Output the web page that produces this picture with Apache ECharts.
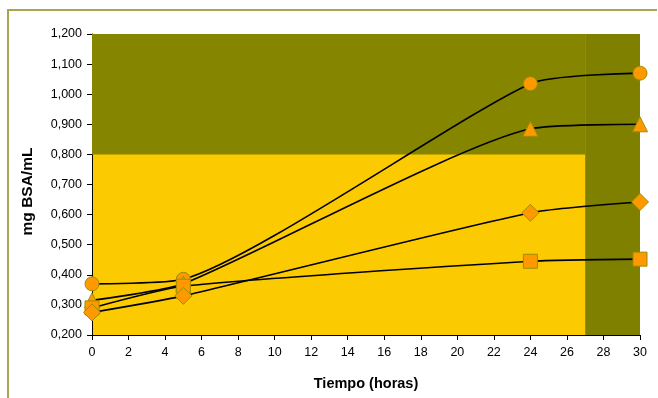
<!DOCTYPE html>
<html>
<head>
<meta charset="utf-8">
<script src="https://cdn.jsdelivr.net/npm/echarts@6/dist/echarts.min.js"></script>
<style>
  html, body { margin: 0; padding: 0; background: #ffffff; }
  #chart { width: 658px; height: 398px; }
</style>
</head>
<body>
<div id="chart"></div>
<script>
// Sampling times (hours)
var horas = [0, 5, 24, 30];

// Protein concentration, mg BSA/mL, one series per condition
var serieCirculo   = [0.370, 0.385, 1.035, 1.070];
var serieTriangulo = [0.315, 0.370, 0.885, 0.900];
var serieCuadrado  = [0.290, 0.362, 0.445, 0.452];
var serieRombo     = [0.275, 0.330, 0.606, 0.642];

// Shaded background zones [x0, y0, x1, y1] in data units
var zonaSuperior = [0, 0.8, 27, 1.2];
var zonaDerecha  = [27, 0.2, 30, 1.2];

var fuente = '"Liberation Sans", Arial, sans-serif';
var naranja = '#ff9900';
var bordeMarca = '#a08c00';

function serie(nombre, datos, simbolo, tam, extra) {
  var s = {
    name: nombre,
    type: 'line',
    data: horas.map(function (h, i) { return [h, datos[i]]; }),
    smooth: 0.2,
    symbol: simbolo,
    symbolSize: tam,
    showAllSymbol: true,
    lineStyle: { color: '#000000', width: 1.6 },
    itemStyle: { color: naranja, borderColor: bordeMarca, borderWidth: 1 },
    emphasis: { disabled: true },
    z: 3
  };
  if (extra) { for (var k in extra) s[k] = extra[k]; }
  return s;
}

var chart = echarts.init(document.getElementById('chart'), null, { renderer: 'canvas' });

chart.setOption({
  animation: false,
  backgroundColor: '#ffffff',
  graphic: [
    { type: 'line', shape: { x1: 8, y1: 10, x2: 8, y2: 398 },
      style: { stroke: '#a8a650', lineWidth: 2 } },
    { type: 'line', shape: { x1: 7, y1: 10, x2: 657, y2: 10 },
      style: { stroke: '#a8a650', lineWidth: 2 } }
  ],
  grid: {
    left: 92, right: 18, top: 34, bottom: 63,
    show: true, backgroundColor: '#fbca00', borderWidth: 0
  },
  xAxis: {
    type: 'value',
    min: 0, max: 30, interval: 2,
    name: 'Tiempo (horas)',
    nameLocation: 'middle',
    nameGap: 41,
    nameTextStyle: { fontFamily: fuente, fontSize: 14.5, fontWeight: 'bold', color: '#000' },
    axisLine: { show: true, lineStyle: { color: '#000', width: 1 } },
    axisTick: { show: true, length: 5, lineStyle: { color: '#000' } },
    axisLabel: { fontFamily: fuente, fontSize: 12.5, color: '#000', margin: 11 },
    splitLine: { show: false }
  },
  yAxis: {
    type: 'value',
    min: 0.2, max: 1.2, interval: 0.1,
    name: 'mg BSA/mL',
    nameLocation: 'middle',
    nameGap: 56,
    nameTextStyle: {
      fontFamily: fuente, fontSize: 15.5, fontWeight: 'bold', color: '#000',
      padding: [0, 14, 0, 0]
    },
    axisLine: { show: true, lineStyle: { color: '#000', width: 1 } },
    axisTick: { show: true, length: 5, lineStyle: { color: '#000' } },
    axisLabel: {
      fontFamily: fuente, fontSize: 12.5, color: '#000', margin: 10,
      formatter: function (v) { return v.toFixed(3).replace('.', ','); }
    },
    splitLine: { show: false }
  },
  series: [
    serie('A', serieCirculo, 'circle', 14, {
      markArea: {
        silent: true,
        data: [
          [{ coord: [zonaSuperior[0], zonaSuperior[1]], itemStyle: { color: '#868500' } },
           { coord: [zonaSuperior[2], zonaSuperior[3]] }],
          [{ coord: [zonaDerecha[0], zonaDerecha[1]], itemStyle: { color: '#7f7f00' } },
           { coord: [zonaDerecha[2], zonaDerecha[3]] }]
        ]
      }
    }),
    serie('B', serieTriangulo, 'triangle', 15),
    serie('C', serieCuadrado, 'rect', 14),
    serie('D', serieRombo, 'diamond', 17)
  ]
});
</script>
</body>
</html>
